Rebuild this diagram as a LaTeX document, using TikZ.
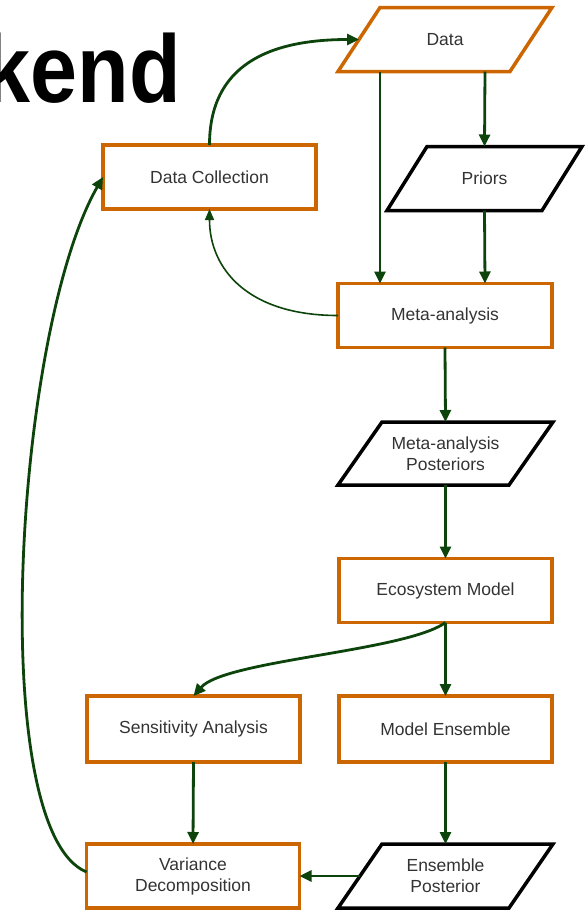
\documentclass[tikz,border=0pt]{standalone}
\usepackage{fontspec}
\setmainfont{Liberation Sans}
\usetikzlibrary{arrows.meta}
\definecolor{boxorange}{RGB}{204,102,0}
\definecolor{arrowgreen}{RGB}{12,68,12}
\definecolor{textgray}{RGB}{51,51,51}
\newcommand\paraoutline[3]{%
  \draw[draw=#2, line width=3.5pt, line join=miter]
    ([xshift=#3]#1.north west) -- ([xshift=#3]#1.north east) --
    ([xshift=-#3]#1.south east) -- ([xshift=-#3]#1.south west) -- cycle;}
\begin{document}
\begin{tikzpicture}[x=1pt,y=-1pt,
  txt/.style={font=\fontsize{17.5}{21}\selectfont, text=textgray, align=center, inner sep=0pt, outer sep=0pt},
  procbox/.style={txt, draw=boxorange, line width=3.5pt, minimum width=213pt, minimum height=64pt},
  databox/.style={txt, minimum height=64pt},
  flow/.style={draw=arrowgreen, line width=2.8pt, -{Triangle[length=12pt,width=11pt]}},
  thinflow/.style={draw=arrowgreen, line width=1.6pt, -{Triangle[length=11pt,width=9pt]}},
]
\path[use as bounding box] (0,0) rectangle (586,911);
\clip (0,0) rectangle (586,911);

% title
\node[anchor=base east, inner sep=0pt, xscale=0.88, font=\fontsize{96}{100}\selectfont\bfseries] (title) at (181,102) {kend};

% nodes
\node[databox, minimum width=172pt] (data) at (445,39.5) {Data};
\node[databox, minimum width=155pt] (priors) at (484.5,178.5) {Priors};
\node[procbox] (dc) at (209.5,177) {Data Collection};
\node[procbox, minimum width=214pt] (meta) at (445,315.5) {Meta-analysis};
\node[databox, minimum width=171pt, minimum height=63pt] (map) at (445.5,453.5) {Meta-analysis\\Posteriors};
\node[procbox] (eco) at (445.5,590.5) {Ecosystem Model};
\node[procbox, minimum height=66pt] (sens) at (193.5,729) {Sensitivity Analysis};
\node[procbox, minimum height=66pt] (me) at (445.5,729) {Model Ensemble};
\node[procbox] (vd) at (193,876) {Variance\\Decomposition};
\node[databox, minimum width=171pt] (ep) at (445.5,876) {Ensemble\\Posterior};

\paraoutline{data}{boxorange}{21pt}
\paraoutline{priors}{black}{20pt}
\paraoutline{map}{black}{22pt}
\paraoutline{ep}{black}{22pt}

% connectors
\draw[flow] (dc.north) .. controls +(0,-80) and +(-90,0) .. (data.west);
\draw[flow] ([xshift=-65pt]data.south) -- ([xshift=-65pt]meta.north);
\draw[flow] ([xshift=40pt]data.south) -- (priors.north);
\draw[flow] (priors.south) -- ([xshift=40pt]meta.north);
\draw[thinflow] (meta.west) .. controls +(-90,0) and +(0,60) .. (dc.south);
\draw[flow] (meta.south) -- (map.north);
\draw[flow] (map.south) -- (eco.north);
\draw[flow] (eco.south) -- (me.north);
\draw[flow] (eco.south) .. controls +(-40,29) and +(31.5,-36) .. (sens.north);
\draw[flow] (sens.south) -- (vd.north);
\draw[flow] (me.south) -- (ep.north);
\draw[flow] (ep.west) -- (vd.east);
\draw[flow] ([yshift=4pt]vd.west) .. controls (-15,830) and (15,330) .. (dc.west);
\end{tikzpicture}
\end{document}
